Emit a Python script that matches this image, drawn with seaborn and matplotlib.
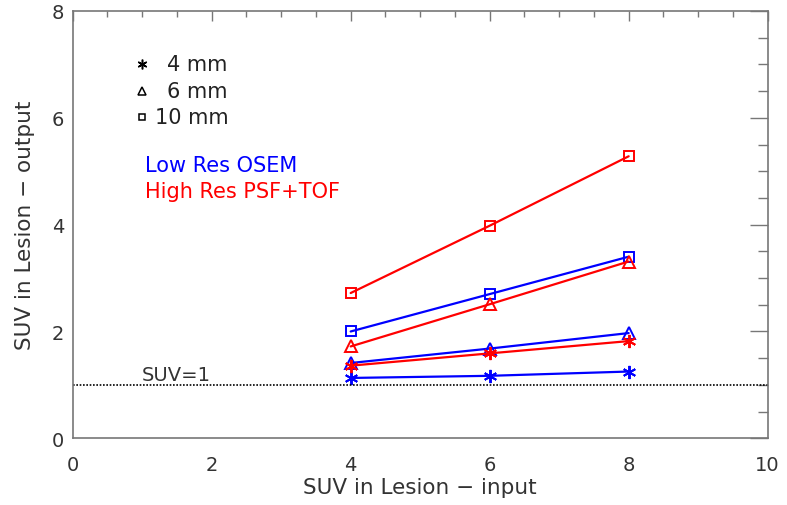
import matplotlib
matplotlib.use("Agg")
import matplotlib.pyplot as plt
import seaborn as sns
import pandas as pd
from matplotlib.ticker import MultipleLocator

sns.set_style("white")
plt.rcParams['font.family'] = ['DejaVu Sans']

suv_input = [4, 6, 8]
low_4mm = [1.13, 1.17, 1.25]
low_6mm = [1.41, 1.68, 1.97]
low_10mm = [2.00, 2.70, 3.40]
high_4mm = [1.36, 1.59, 1.82]
high_6mm = [1.72, 2.51, 3.31]
high_10mm = [2.72, 3.98, 5.28]

sizes = ["4 mm", "6 mm", "10 mm"]
methods = ["Low Res OSEM", "High Res PSF+TOF"]

rows = []
for m, vals in zip(methods, [[low_4mm, low_6mm, low_10mm], [high_4mm, high_6mm, high_10mm]]):
    for s, v in zip(sizes, vals):
        for x, y in zip(suv_input, v):
            rows.append({"input": x, "output": y, "method": m, "size": s})
df = pd.DataFrame(rows)

colors = {"Low Res OSEM": "#0000ff", "High Res PSF+TOF": "#ff0000"}
mk = {"4 mm": (6, 2, 0), "6 mm": "^", "10 mm": "s"}
msz = {"4 mm": 9.5, "6 mm": 8, "10 mm": 7.5}

fig = plt.figure(figsize=(7.87, 5.06), dpi=100)
ax = fig.add_axes([0.0924, 0.1318, 0.883, 0.8445])

for m in methods:
    for s in sizes:
        sub = df[(df.method == m) & (df["size"] == s)]
        sns.lineplot(data=sub, x="input", y="output", ax=ax, color=colors[m],
                     marker=mk[s], markersize=msz[s], mfc="none", mec=colors[m],
                     mew=1.4, lw=1.6, legend=False)

ax.axhline(1, color="black", ls=(0, (1, 1)), lw=1.2)
ax.text(1.0, 1.2, "SUV=1", fontsize=14, va="center", ha="left", color="#333333")

ax.set_xlim(0, 10)
ax.set_ylim(0, 8)
ax.xaxis.set_major_locator(MultipleLocator(2))
ax.xaxis.set_minor_locator(MultipleLocator(0.5))
ax.yaxis.set_major_locator(MultipleLocator(2))
ax.yaxis.set_minor_locator(MultipleLocator(0.5))
ax.tick_params(which="both", direction="in", top=True, right=True, colors="#777777",
               labelcolor="#333333", labelsize=14)
ax.tick_params(axis="x", which="major", length=7, width=1, pad=12)
ax.tick_params(axis="x", which="minor", length=4, width=1)
ax.tick_params(axis="y", which="major", length=13, width=1, pad=6)
ax.tick_params(axis="y", which="minor", length=7, width=1)
for sp in ax.spines.values():
    sp.set_color("#777777")
    sp.set_linewidth(1.2)
ax.set_xlabel("SUV in Lesion \u2212 input", fontsize=15.5, color="#333333", labelpad=2)
ax.set_ylabel("SUV in Lesion \u2212 output", fontsize=15.5, color="#333333", labelpad=12)

# legend
ly = [7.0, 6.5, 6.02]
lx = [1.36, 1.36, 1.18]
for s, y, x in zip(sizes, ly, lx):
    ax.plot([1.0], [y], marker=mk[s], ms=msz[s] - 2.5, mfc="none", mec="black", mew=1.1, ls="none")
    ax.text(x, y, s, fontsize=15, va="center", ha="left", color="#222222")
ax.text(1.04, 5.12, "Low Res OSEM", color="#0000ff", fontsize=15, va="center", ha="left")
ax.text(1.04, 4.63, "High Res PSF+TOF", color="#ff0000", fontsize=15, va="center", ha="left")

fig.savefig("out.png", dpi=100)
